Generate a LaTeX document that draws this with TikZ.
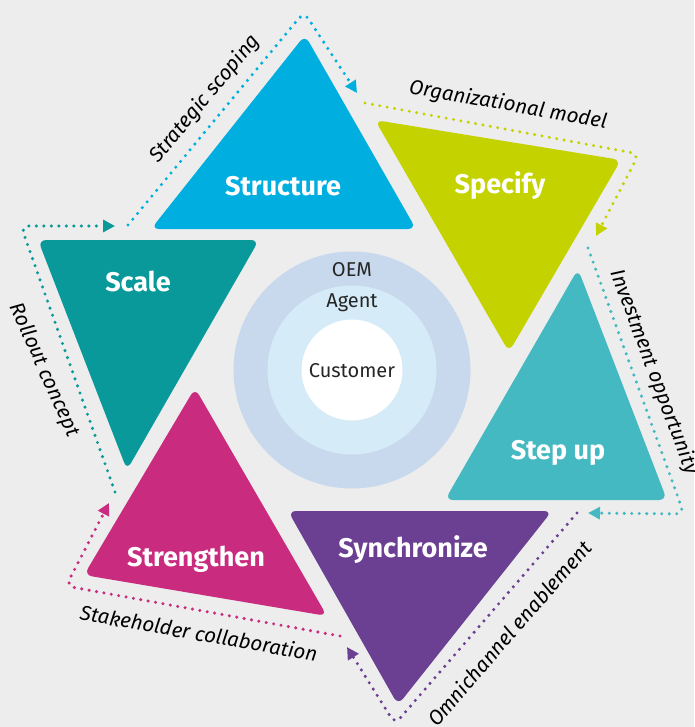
\documentclass[tikz,border=0pt]{standalone}
\usepackage{fontspec}
\setmainfont{Fira Sans}
\usetikzlibrary{arrows.meta}
\definecolor{bg}{HTML}{EDEDED}
\definecolor{cstruct}{HTML}{00AFE0}
\definecolor{cspec}{HTML}{C4D300}
\definecolor{cstep}{HTML}{44B9C2}
\definecolor{csync}{HTML}{6B4092}
\definecolor{cstren}{HTML}{C92B7F}
\definecolor{cscale}{HTML}{0A999A}
\definecolor{couter}{HTML}{C8D9EE}
\definecolor{cmid}{HTML}{D5EBF8}
\begin{document}
\begin{tikzpicture}[x=1pt,y=-1pt,
  tri/.style={rounded corners=8pt},
  dotline/.style={line width=3.4pt, line cap=round, dash pattern=on 0pt off 7.5pt,
    rounded corners=8pt, -{Triangle[length=12pt,width=12pt]}},
  tlabel/.style={font=\bfseries\fontsize{27}{27}\selectfont, text=white},
  plabel/.style={font=\itshape\fontsize{20.5}{20.5}\selectfont, text=black},
  clabel/.style={font=\fontsize{20}{20}\selectfont, text=black!85}]
\fill[bg] (0,0) rectangle (694,727);
\useasboundingbox (0,0) rectangle (694,727);

% triangles
\fill[cstruct,tri] (305,35) -- (416,229) -- (151,229) -- cycle;
\fill[cspec,tri] (375,120) -- (621,160) -- (509,352) -- cycle;
\fill[cstep,tri] (578,269) -- (667,500) -- (445,500) -- cycle;
\fill[csync,tri] (288,511) -- (552,511) -- (398,705) -- cycle;
\fill[cstren,tri] (195,388) -- (327,616) -- (84,575) -- cycle;
\fill[cscale,tri] (38,240) -- (259,240) -- (127,470) -- cycle;

% circles
\fill[couter] (352,370) circle (118.5);
\fill[cmid] (352,370) circle (84.5);
\fill[white] (352,370) circle (50.5);
\node[clabel] (oem) at (352,270) {OEM};
\node[clabel] (agent) at (352,303) {Agent};
\node[clabel] (cust) at (352,371) {Customer};

% triangle labels
\node[tlabel] (structure) at (283,186) {Structure};
\node[tlabel] (specify) at (500,186) {Specify};
\node[tlabel] (scale) at (138,281) {Scale};
\node[tlabel] (stepup) at (558,453) {Step up};
\node[tlabel] (sync) at (413,550) {Synchronize};
\node[tlabel] (strength) at (196,559) {Strengthen};

% connector coordinates
\coordinate (c1a) at (128,225); \coordinate (c1b) at (304,12); \coordinate (c1c) at (357,93);
\coordinate (c2a) at (365,103); \coordinate (c2b) at (639,154); \coordinate (c2c) at (596,236);
\coordinate (c3a) at (588,248); \coordinate (c3b) at (684,514); \coordinate (c3c) at (588,513);
\coordinate (c4a) at (577,513); \coordinate (c4b) at (395,724); \coordinate (c4c) at (347,647);
\coordinate (c5a) at (340,636); \coordinate (c5b) at (66,586); \coordinate (c5c) at (109,503);
\coordinate (c6a) at (115,492); \coordinate (c6b) at (21,226); \coordinate (c6c) at (115,226);

\draw[dotline,cstruct] (c1a) -- (c1b) -- (c1c);
\draw[dotline,cspec] (c2a) -- (c2b) -- (c2c);
\draw[dotline,cstep] (c3a) -- (c3b) -- (c3c);
\draw[dotline,csync] (c4a) -- (c4b) -- (c4c);
\draw[dotline,cstren] (c5a) -- (c5b) -- (c5c);
\draw[dotline,cscale] (c6a) -- (c6b) -- (c6c);

% path labels
\node[plabel,rotate=50] (l1) at (205,99) {Strategic scoping};
\node[plabel,rotate=-10] (l2) at (508,105) {Organizational model};
\node[plabel,rotate=-69.5] (l3) at (654,372) {Investment opportunity};
\node[plabel,rotate=49] (l4) at (509,633) {Omnichannel enablement};
\node[plabel,rotate=-10] (l5) at (199,633) {Stakeholder collaboration};
\node[plabel,rotate=-66] (l6) at (44,370) {Rollout concept};
\end{tikzpicture}
\end{document}
